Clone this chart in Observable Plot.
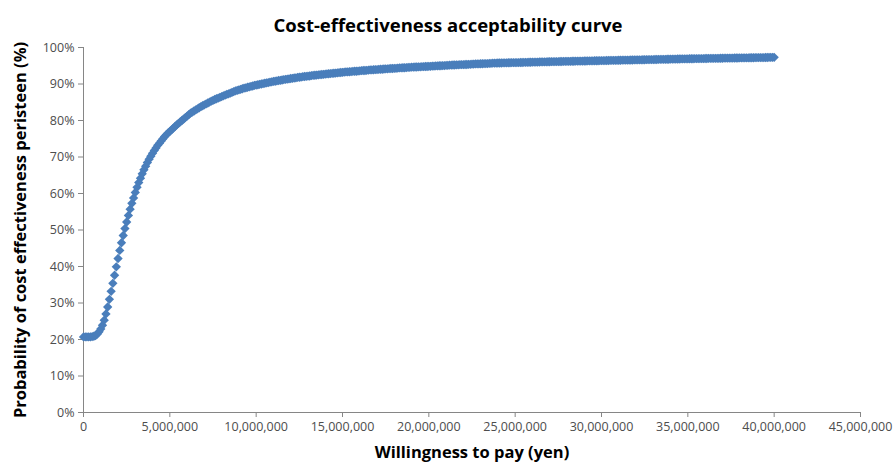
<!DOCTYPE html>
<html><head><meta charset="utf-8">
<script src="https://cdn.jsdelivr.net/npm/d3@7"></script>
<script src="https://cdn.jsdelivr.net/npm/@observablehq/plot@0.6"></script>
<style>body{margin:0;background:#fff}#chart svg{display:block}</style>
</head><body><div id="chart"></div>
<script>
const title = "Cost-effectiveness acceptability curve";
const xLabel = "Willingness to pay (yen)";
const yLabel = "Probability of cost effectiveness peristeen (%)";
// willingness to pay grid: 0 to 40,000,000 yen in steps of 100,000
const wtpStep = 100000;
// probability of cost effectiveness (%) at each step
const probability = [
20.7,20.7,20.7,20.7,20.7,20.8,20.9,21.1,21.5,22.1,
22.9,23.9,25.3,27.0,28.9,31.0,33.2,35.4,37.6,39.9,
42.2,44.4,46.5,48.5,50.4,52.2,54.0,55.7,57.3,58.8,
60.3,61.7,63.0,64.2,65.4,66.5,67.5,68.5,69.4,70.2,
71.0,71.8,72.5,73.2,73.8,74.4,75.0,75.6,76.1,76.6,
77.0,77.45,77.9,78.35,78.8,79.2,79.6,80.0,80.4,80.8,
81.2,81.6,82.0,82.3,82.6,82.9,83.2,83.5,83.8,84.05,
84.3,84.55,84.8,85.05,85.3,85.5,85.75,85.95,86.15,86.35,
86.55,86.75,86.95,87.15,87.3,87.5,87.7,87.9,88.1,88.25,
88.4,88.55,88.7,88.85,88.95,89.1,89.2,89.35,89.45,89.6,
89.7,89.8,89.9,90.0,90.1,90.2,90.3,90.4,90.5,90.6,
90.7,90.75,90.85,90.95,91.0,91.1,91.2,91.25,91.35,91.4,
91.5,91.55,91.65,91.7,91.8,91.85,91.9,92.0,92.05,92.1,
92.15,92.2,92.3,92.35,92.4,92.45,92.5,92.55,92.6,92.65,
92.7,92.75,92.8,92.85,92.9,92.95,93.0,93.05,93.1,93.15,
93.2,93.25,93.3,93.3,93.35,93.4,93.45,93.5,93.5,93.55,
93.6,93.65,93.7,93.7,93.75,93.8,93.85,93.85,93.9,93.95,
93.95,94.0,94.05,94.05,94.1,94.15,94.15,94.2,94.25,94.25,
94.3,94.3,94.35,94.4,94.4,94.45,94.45,94.5,94.55,94.55,
94.6,94.6,94.65,94.65,94.7,94.7,94.75,94.75,94.8,94.8,
94.85,94.85,94.9,94.9,94.95,94.95,95.0,95.0,95.05,95.05,
95.1,95.1,95.15,95.15,95.2,95.2,95.25,95.25,95.3,95.3,
95.3,95.35,95.35,95.4,95.4,95.45,95.45,95.5,95.5,95.5,
95.55,95.55,95.6,95.6,95.6,95.65,95.65,95.7,95.7,95.7,
95.75,95.75,95.75,95.8,95.8,95.8,95.82,95.83,95.84,95.84,
95.85,95.86,95.88,95.89,95.90,95.91,95.93,95.94,95.95,95.96,
95.98,95.99,96.00,96.01,96.03,96.04,96.05,96.06,96.08,96.09,
96.10,96.11,96.12,96.13,96.14,96.15,96.16,96.17,96.18,96.19,
96.20,96.21,96.22,96.23,96.24,96.25,96.26,96.27,96.28,96.29,
96.30,96.31,96.32,96.33,96.34,96.35,96.36,96.37,96.38,96.39,
96.40,96.41,96.42,96.43,96.44,96.45,96.46,96.47,96.48,96.49,
96.50,96.51,96.52,96.53,96.54,96.55,96.56,96.57,96.58,96.59,
96.60,96.61,96.62,96.63,96.64,96.65,96.66,96.67,96.68,96.69,
96.70,96.71,96.72,96.73,96.74,96.75,96.76,96.77,96.78,96.79,
96.80,96.81,96.82,96.83,96.84,96.85,96.86,96.87,96.88,96.89,
96.90,96.91,96.92,96.92,96.93,96.94,96.95,96.96,96.96,96.97,
96.98,96.99,97.00,97.00,97.01,97.02,97.03,97.04,97.04,97.05,
97.06,97.07,97.08,97.08,97.09,97.10,97.11,97.12,97.12,97.13,
97.14,97.15,97.16,97.16,97.17,97.18,97.19,97.20,97.20,97.21,
97.22,97.23,97.24,97.24,97.25,97.26,97.27,97.28,97.28,97.29,
97.30
];
const xTicks = [0, 5000000, 10000000, 15000000, 20000000, 25000000, 30000000, 35000000, 40000000, 45000000];
const yTicks = [0, 10, 20, 30, 40, 50, 60, 70, 80, 90, 100];

const data = probability.map((p, i) => ({wtp: i * wtpStep, p}));
const axisColor = "#868686";
const labelColor = "#4d4d4d";
const font = "'Open Sans', sans-serif";

const chart = Plot.plot({
  width: 894,
  height: 467,
  marginLeft: 83,
  marginRight: 34,
  marginTop: 47,
  marginBottom: 55,
  style: {fontFamily: font, fontSize: "12.5px", background: "#fff", overflow: "visible"},
  x: {domain: [0, 45000000], label: null},
  y: {domain: [0, 100], label: null},
  marks: [
    Plot.ruleY([0], {stroke: axisColor}),
    Plot.ruleX([0], {stroke: axisColor}),
    Plot.axisX({ticks: xTicks, tickFormat: d3.format(","), tickSize: 5, tickPadding: 5, stroke: axisColor, fill: labelColor, label: null, fontSize: 12.5}),
    Plot.axisY({ticks: yTicks, tickFormat: d => d + "%", tickSize: 5, tickPadding: 4, stroke: axisColor, fill: labelColor, label: null, fontSize: 12.5}),
    Plot.dot(data, {x: "wtp", y: "p", symbol: "diamond2", r: 4.2, fill: "#4a7ebb", stroke: "none"}),
    Plot.text([title], {frameAnchor: "top", dx: -24, dy: -29, textAnchor: "middle", fontSize: 18.5, fontWeight: "bold", fill: "#000"}),
    Plot.text([xLabel], {frameAnchor: "bottom", dy: 45, textAnchor: "middle", fontSize: 16.5, fontWeight: "bold", fill: "#000"}),
    Plot.text([yLabel], {frameAnchor: "left", dx: -63, rotate: -90, textAnchor: "middle", fontSize: 16.5, fontWeight: "bold", fill: "#000"})
  ]
});
document.getElementById("chart").appendChild(chart);
</script>
</body></html>
